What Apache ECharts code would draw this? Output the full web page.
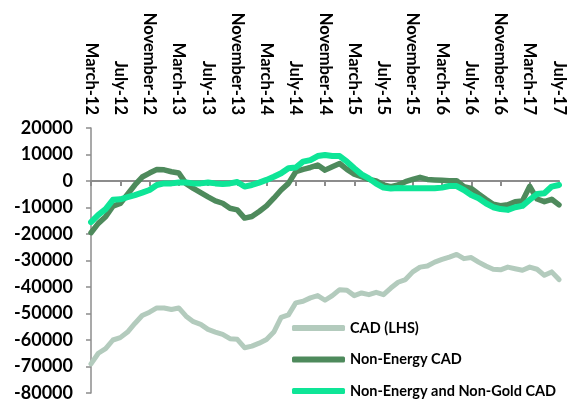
<!DOCTYPE html>
<html>
<head>
<meta charset="utf-8">
<script src="https://cdn.jsdelivr.net/npm/echarts@6/dist/echarts.min.js"></script>
<style>
html,body{margin:0;padding:0;background:#fff;}
#chart{width:568px;height:403px;}
</style>
</head>
<body>
<div id="chart"></div>
<script>
var monthNames = ['March','April','May','June','July','August','September','October','November','December','January','February'];
var categories = [];
(function(){
  var m = 0, y = 12;
  for (var k = 0; k < 65; k++) {
    categories.push(monthNames[m] + '-' + y);
    m++;
    if (m === 10) { y++; }
    if (m === 12) { m = 0; }
  }
})();

var seriesNames = ['CAD (LHS)', 'Non-Energy CAD', 'Non-Energy and Non-Gold CAD'];

var cad = [-69000,-65000,-63250,-60000,-59100,-57000,-53750,-50750,-49500,-47900,
-47900,-48500,-47900,-51000,-53100,-54100,-56000,-57000,-57900,-59500,
-59750,-62900,-62300,-61200,-59800,-57000,-51500,-50500,-46000,-45400,
-44100,-43250,-45000,-43250,-41000,-41250,-43250,-42250,-42900,-42000,
-42900,-40400,-38200,-37200,-34300,-32500,-32100,-30600,-29600,-28700,
-27700,-29300,-28900,-30600,-32100,-33300,-33500,-32500,-33100,-33700,
-32500,-33300,-35600,-34300,-37200];

var nonEnergy = [-19500,-16000,-13500,-9500,-8500,-5000,-1500,1500,3000,4300,
4200,3500,3000,-1000,-2800,-4400,-6000,-7500,-8400,-10300,
-10900,-14000,-13400,-11500,-9400,-6500,-3400,-900,3500,4400,
5100,6000,4100,5400,6600,4400,2600,1600,600,0,
-1500,-2100,-1500,-250,600,1400,600,400,250,100,
100,-2100,-2800,-4900,-6900,-8800,-9300,-9000,-7800,-7500,
-2000,-6800,-7800,-6900,-9000];

var nonEnergyNonGold = [-15500,-12800,-10600,-7100,-6900,-6100,-5300,-4400,-3400,-1500,
-900,-900,-600,-600,-900,-900,-600,-900,-1100,-900,
-400,-2100,-1500,-600,400,1600,2900,4800,5100,7300,
7900,9400,9800,9400,9400,7300,4800,2500,1000,-1000,
-2500,-2800,-2600,-2750,-2750,-2750,-2750,-2750,-2500,-1900,
-1900,-3400,-5300,-6500,-8400,-9900,-10600,-10900,-9900,-9400,
-7100,-4900,-4600,-2100,-1500];

var yMin = -80000, yMax = 20000, yStep = 10000;
var colors = ['#b3cbbd', '#4e8a5c', '#0ee597'];
var FONT = 'Lato';

var chart = echarts.init(document.getElementById('chart'), null, {renderer: 'canvas'});

function lineSeries(name, data, color, w) {
  return {
    name: name, type: 'line', data: data, xAxisIndex: 0, yAxisIndex: 0,
    symbol: 'none', smooth: false, animation: false,
    lineStyle: {color: color, width: w, cap: 'round', join: 'round'},
    itemStyle: {color: color}
  };
}

chart.setOption({
  animation: false,
  backgroundColor: '#ffffff',
  grid: {left: 91, right: 9, top: 128, bottom: 10, containLabel: false},
  legend: {
    orient: 'vertical', left: 292, top: 320, height: 100, padding: 0,
    itemWidth: 53, itemHeight: 6, itemGap: 15.5,
    icon: 'roundRect',
    data: seriesNames,
    textStyle: {fontFamily: FONT, fontWeight: 'bold', fontSize: 14.5, lineHeight: 16, color: '#000'},
    selectedMode: false
  },
  xAxis: [
    {
      type: 'category', data: categories, boundaryGap: false, position: 'top',
      axisLine: {show: false, onZero: false}, axisTick: {show: false},
      axisLabel: {interval: 3, rotate: 90, margin: 13, fontFamily: FONT, fontWeight: 'bold', fontSize: 16.5, color: '#000'},
      splitLine: {show: false}
    },
    {
      type: 'category', data: categories, boundaryGap: false, position: 'bottom',
      axisLine: {show: true, onZero: true, onZeroAxisIndex: 0, lineStyle: {color: '#8c8c8c', width: 2}},
      axisTick: {show: true, interval: 3, length: 5, lineStyle: {color: '#8c8c8c', width: 2}},
      axisLabel: {show: false},
      splitLine: {show: false}
    }
  ],
  yAxis: {
    type: 'value', min: yMin, max: yMax, interval: yStep,
    axisLine: {show: true, lineStyle: {color: '#8c8c8c', width: 1.5}},
    axisTick: {show: true, length: 5, lineStyle: {color: '#8c8c8c', width: 1.5}},
    splitLine: {show: false},
    axisLabel: {margin: 18, fontFamily: FONT, fontWeight: 'bold', fontSize: 18, color: '#000',
      formatter: function (v) { return String(v); }}
  },
  series: [
    lineSeries(seriesNames[0], cad, colors[0], 5),
    lineSeries(seriesNames[1], nonEnergy, colors[1], 5.5),
    lineSeries(seriesNames[2], nonEnergyNonGold, colors[2], 6)
  ]
});
</script>
</body>
</html>
